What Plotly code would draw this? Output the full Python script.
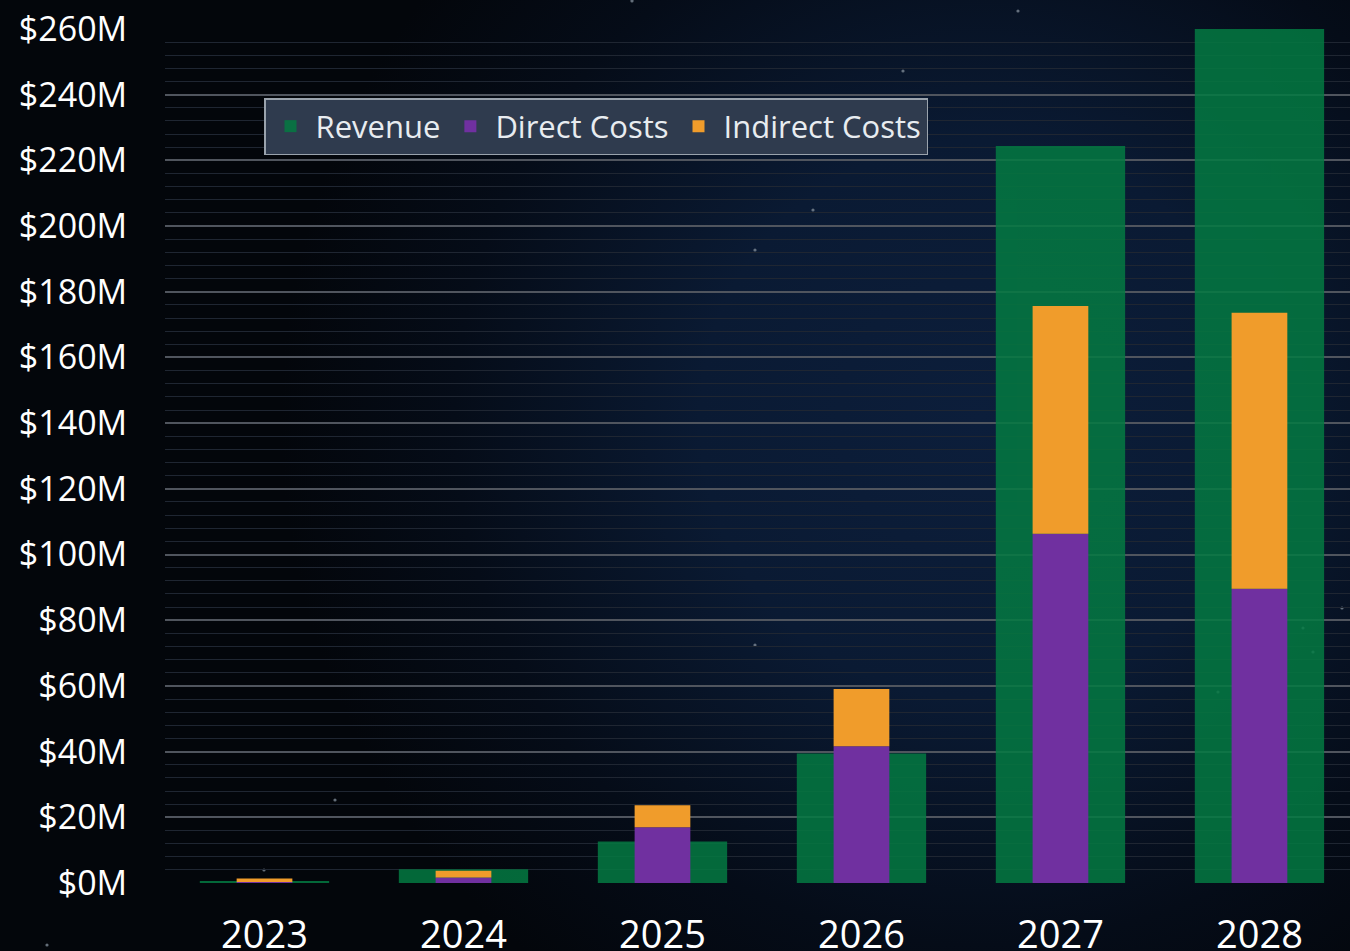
import base64
import plotly.graph_objects as go

years = ["2023", "2024", "2025", "2026", "2027", "2028"]
revenue = [0.5, 4.2, 12.6, 39.4, 224.4, 260.0]
direct_costs = [0.3, 1.7, 17.0, 41.6, 106.3, 89.6]
indirect_costs = [1.1, 2.0, 6.7, 17.5, 69.4, 84.0]
y_ticks = list(range(0, 261, 20))
y_tick_labels = [f"${v}M" for v in y_ticks]

W, H = 1350, 951
ML, MR, MT, MB = 165, 0, 29, 68
PW, PH = W - ML - MR, H - MT - MB

stars = [(632, 1), (1018, 11), (903, 71), (745, 148), (813, 210), (755, 250),
         (335, 800), (264, 870), (755, 645), (1342, 608), (1303, 628),
         (1313, 652), (1218, 692), (47, 945)]
star_svg = "".join(
    f'<circle cx="{x}" cy="{y}" r="1.6" fill="#7c8794" opacity="0.8"/>' for x, y in stars
)
svg = f'''<svg xmlns="http://www.w3.org/2000/svg" width="{W}" height="{H}" viewBox="0 0 {W} {H}">
<defs>
<radialGradient id="g" cx="980" cy="420" r="700" gradientUnits="userSpaceOnUse">
<stop offset="0" stop-color="#0c1e3b"/>
<stop offset="0.4" stop-color="#0a1a33"/>
<stop offset="0.75" stop-color="#050c18"/>
<stop offset="1" stop-color="#03060b"/>
</radialGradient>
</defs>
<rect width="{W}" height="{H}" fill="#03060b"/>
<rect width="{W}" height="{H}" fill="url(#g)"/>
{star_svg}
</svg>'''
src = "data:image/svg+xml;base64," + base64.b64encode(svg.encode()).decode()

fig = go.Figure()
fig.add_trace(go.Bar(
    x=years, y=revenue, name="Revenue", width=0.65,
    marker=dict(color="#047a42", line=dict(width=0)), opacity=0.85,
))
fig.add_trace(go.Bar(
    x=years, y=direct_costs, name="Direct Costs", width=0.28,
    marker=dict(color="#7030a0", line=dict(width=0)),
))
fig.add_trace(go.Bar(
    x=years, y=indirect_costs, base=direct_costs, name="Indirect Costs", width=0.28,
    marker=dict(color="#f09c2b", line=dict(width=0)),
))

fig.update_layout(
    width=W, height=H,
    margin=dict(l=ML, r=MR, t=MT, b=MB, pad=0, autoexpand=False),
    barmode="overlay",
    paper_bgcolor="#03060b",
    plot_bgcolor="rgba(0,0,0,0)",
    font=dict(family="Open Sans", color="#ffffff"),
    showlegend=True,
    legend=dict(
        orientation="h",
        x=(264 - ML) / PW, xanchor="left",
        y=(883 - 98) / PH, yanchor="top",
        bgcolor="#2f3b4e",
        bordercolor="#9aa3ad", borderwidth=1.5,
        font=dict(size=31, color="#e8ecf0", family="Open Sans"),
        itemwidth=40,
        traceorder="normal",
    ),
    images=[dict(
        source=src, xref="paper", yref="paper",
        x=-ML / PW, y=1 + MT / PH, sizex=W / PW, sizey=H / PH,
        xanchor="left", yanchor="top", sizing="stretch", layer="below",
    )],
)
fig.update_xaxes(
    type="category", range=[-0.5, 5.455], automargin=False,
    showgrid=False, zeroline=False, showline=False,
    ticks="outside", ticklen=18, tickcolor="rgba(0,0,0,0)",
    tickfont=dict(size=38, color="#ffffff", family="Open Sans"),
)
fig.update_yaxes(
    range=[0, 260], tickvals=y_ticks, ticktext=y_tick_labels, automargin=False,
    showgrid=True, gridcolor="#50555e", gridwidth=1.5,
    zeroline=False, showline=False,
    minor=dict(dtick=4, showgrid=True, gridcolor="#1f2632", gridwidth=1),
    ticks="outside", ticklen=30, tickcolor="rgba(0,0,0,0)",
    tickfont=dict(size=34, color="#ffffff", family="Open Sans"),
)

fig.write_html("out.html")
